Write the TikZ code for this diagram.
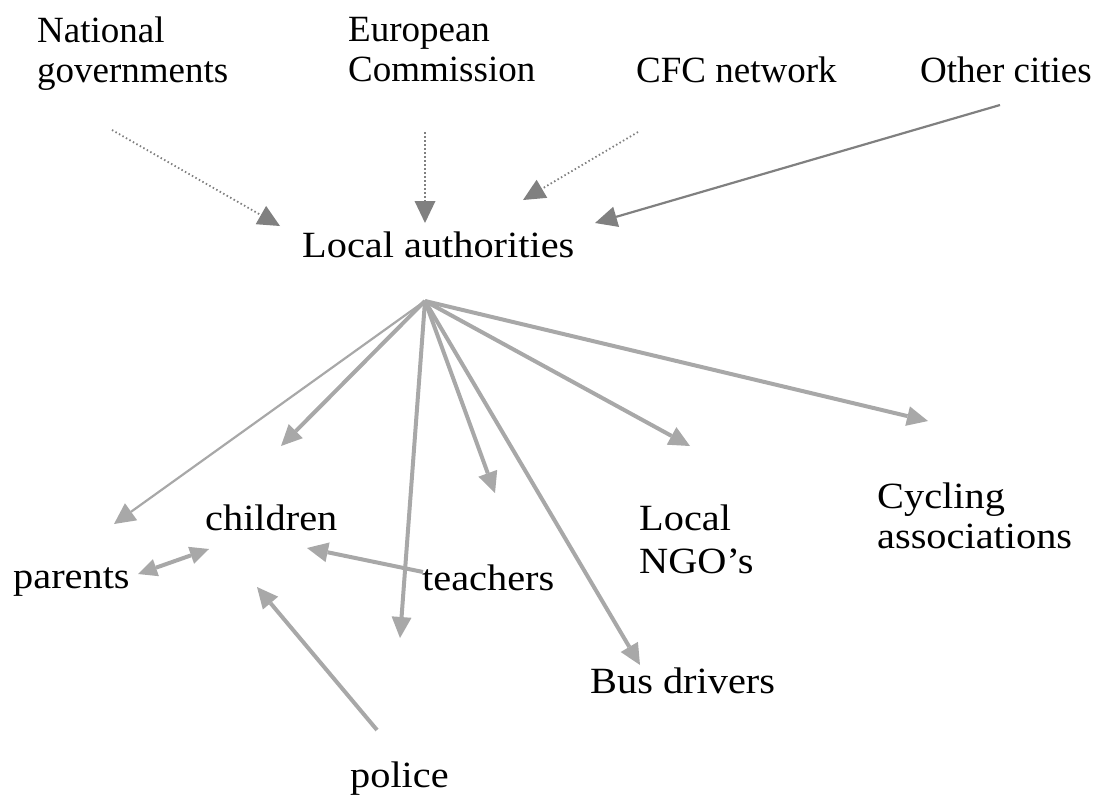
\documentclass[tikz,border=0pt]{standalone}
\usepackage{fontspec}
\setmainfont{Liberation Serif}
\newfontfamily\lowfont[FakeStretch=1.09]{Liberation Serif}
\usetikzlibrary{arrows.meta}
\definecolor{darkarr}{HTML}{808080}
\definecolor{lightarr}{HTML}{A8A8A8}
\tikzset{
  toplabel/.style={font=\fontsize{37}{40}\selectfont, inner sep=0pt, align=left, anchor=north west},
  lowlabel/.style={font=\lowfont\fontsize{37}{41}\selectfont, inner sep=0pt, align=left, anchor=north west},
  dotarrow/.style={draw=darkarr, line width=1.8pt, dash pattern=on 1.5pt off 2.5pt,
     -{Triangle[length=22pt,width=21pt,line width=0pt]}},
  solidarrow/.style={draw=darkarr, line width=2.2pt,
     -{Triangle[length=22pt,width=21pt,line width=0pt]}},
  thickarrow/.style={draw=lightarr, line width=4pt,
     -{Triangle[length=21pt,width=20pt,line width=0pt]}},
  thinarrow/.style={draw=lightarr, line width=2.2pt,
     -{Triangle[length=21pt,width=21pt,line width=0pt]}},
  dblarrow/.style={draw=lightarr, line width=4pt,
     {Triangle[length=19pt,width=18pt,line width=0pt]}-{Triangle[length=19pt,width=18pt,line width=0pt]}}
}
\begin{document}
\begin{tikzpicture}[x=1pt,y=-1pt]
\useasboundingbox (0,0) rectangle (1102,797);
% top labels
\node[toplabel] (nat) at (37,17) {National\\governments};
\node[toplabel] (eu) at (348,17) {European\\Commission};
\node[toplabel] (cfc) at (636,57) {CFC network};
\node[toplabel] (oth) at (920,57) {Other cities};
% lower labels
\node[lowlabel] (la) at (302,232) {Local authorities};
\node[lowlabel] (children) at (205,505) {children};
\node[lowlabel] (parents) at (13,567) {parents};
\node[lowlabel] (teachers) at (422,565) {teachers};
\node[lowlabel] (police) at (350,762) {police};
\node[lowlabel] (bus) at (590,668) {Bus drivers};
\node[lowlabel, font=\lowfont\fontsize{37}{43}\selectfont] (ngo) at (639,505) {Local\\NGO’s};
\node[lowlabel, font=\lowfont\fontsize{37}{40}\selectfont] (cyc) at (877,483) {Cycling\\associations};
% connector end points
\coordinate (natS) at (112,130);
\coordinate (natE) at (280,226);
\coordinate (euS) at (425,132);
\coordinate (euE) at (425,223);
\coordinate (cfcS) at (638,132);
\coordinate (cfcE) at (523,200);
\coordinate (othS) at (1000,105);
\coordinate (othE) at (595,223);
\coordinate (hub) at (425,301);
\coordinate (toParents) at (114,524);
\coordinate (toChildren) at (281,446);
\coordinate (toPolice) at (400,638);
\coordinate (toTeachers) at (495,493);
\coordinate (toBus) at (640,665);
\coordinate (toNgo) at (690,446);
\coordinate (toCyc) at (928,421);
\coordinate (pcA) at (138,574);
\coordinate (pcB) at (209,549);
\coordinate (tcS) at (423,572);
\coordinate (tcE) at (307,548);
\coordinate (pocS) at (377,730);
\coordinate (pocE) at (257,587);
% top connectors
\draw[dotarrow] (natS) -- (natE);
\draw[dotarrow] (euS) -- (euE);
\draw[dotarrow] (cfcS) -- (cfcE);
\draw[solidarrow] (othS) -- (othE);
% from local authorities
\draw[thinarrow] (hub) -- (toParents);
\draw[thickarrow] (hub) -- (toChildren);
\draw[thickarrow] (hub) -- (toPolice);
\draw[thickarrow] (hub) -- (toTeachers);
\draw[thickarrow] (hub) -- (toBus);
\draw[thickarrow] (hub) -- (toNgo);
\draw[thickarrow] (hub) -- (toCyc);
% others
\draw[dblarrow] (pcA) -- (pcB);
\draw[thickarrow] (tcS) -- (tcE);
\draw[thickarrow] (pocS) -- (pocE);
\end{tikzpicture}
\end{document}
